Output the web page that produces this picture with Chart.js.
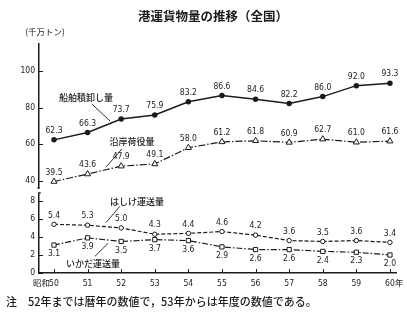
<!DOCTYPE html>
<html>
<head>
<meta charset="utf-8">
<script src="https://cdn.jsdelivr.net/npm/chart.js@4/dist/chart.umd.min.js"></script>
<style>
    html, body { margin: 0; padding: 0; background: #fff; }
    #wrap { width: 407px; height: 329px; position: relative; }
</style>
</head>
<body>
<div id="wrap"><canvas id="chart"></canvas></div>
<script>

// Years (昭和)
const years = ['50', '51', '52', '53', '54', '55', '56', '57', '58', '59', '60'];

// Series (千万トン)
const shipCargo = [62.3, 66.3, 73.7, 75.9, 83.2, 86.6, 84.6, 82.2, 86.0, 92.0, 93.3];
const coastCargo = [39.5, 43.6, 47.9, 49.1, 58.0, 61.2, 61.8, 60.9, 62.7, 61.0, 61.6];
const bargeCargo = [5.4, 5.3, 5.0, 4.3, 4.4, 4.6, 4.2, 3.6, 3.5, 3.6, 3.4];
const raftCargo = [3.1, 3.9, 3.5, 3.7, 3.6, 2.9, 2.6, 2.6, 2.4, 2.3, 2.0];

// Tick labels
const topTicks = [40, 60, 80, 100];
const bottomTicks = [0, 2, 4, 6, 8];

// Fonts
const numFont = '"Liberation Sans Narrow", "DejaVu Sans Condensed", "Liberation Sans", sans-serif';
const jpFont = '"Noto Sans CJK JP", sans-serif';
const ink = '#1b1b1b';

// Series names with leader lines (x = year index, y = axis value)
const callouts = [
    { text: '船舶積卸し量', axis: 'yTop', at: [0.95, 85.2], from: [1.13, 81.9], to: [1.67, 72.6] },
    { text: '沿岸荷役量', axis: 'yTop', at: [2.32, 61.1], from: [2.02, 57.3], to: [1.55, 47.4] },
    { text: 'はしけ運送量', axis: 'yBottom', at: [2.47, 7.95], from: [1.96, 7.4], to: [1.55, 5.6] },
    { text: 'いかだ運送量', axis: 'yBottom', at: [1.16, 1.05], from: [1.22, 1.85], to: [1.61, 3.3] }
];

const toPoints = (values) => values.map((v, i) => ({ x: i, y: v }));

// Value Labels + Callouts + Axis Details
const decorations = {
    id: 'decorations',
    afterDatasetsDraw(chart) {
        const ctx = chart.ctx;
        const x = chart.scales.x;

        ctx.save();
        ctx.fillStyle = ink;
        ctx.strokeStyle = ink;

        // Values
        ctx.font = '8.5px ' + numFont;
        ctx.textAlign = 'center';
        ctx.textBaseline = 'middle';
        chart.data.datasets.forEach((ds, d) => {
            const meta = chart.getDatasetMeta(d);
            meta.data.forEach((pt, i) => {
                const dy = ds.labelBelow ? 9 : -9;
                ctx.fillText(ds.data[i].y.toFixed(1), pt.x, pt.y + dy);
            });
        });

        // Callouts
        ctx.font = '500 9px ' + jpFont;
        ctx.lineWidth = 0.9;
        callouts.forEach((c) => {
            const y = chart.scales[c.axis];
            ctx.fillText(c.text, x.getPixelForValue(c.at[0]), y.getPixelForValue(c.at[1]));
            ctx.beginPath();
            ctx.moveTo(x.getPixelForValue(c.from[0]), y.getPixelForValue(c.from[1]));
            ctx.lineTo(x.getPixelForValue(c.to[0]), y.getPixelForValue(c.to[1]));
            ctx.stroke();
        });

        // Inner tick marks
        const left = chart.chartArea.left;
        const bottom = chart.chartArea.bottom;
        ctx.lineWidth = 1;
        ctx.beginPath();
        [['yTop', topTicks], ['yBottom', bottomTicks]].forEach(([id, ticks]) => {
            ticks.forEach((v) => {
                const py = Math.round(chart.scales[id].getPixelForValue(v)) + 0.5;
                ctx.moveTo(left, py);
                ctx.lineTo(left + 4, py);
            });
        });
        years.forEach((_, i) => {
            const px = Math.round(x.getPixelForValue(i)) + 0.5;
            ctx.moveTo(px, bottom);
            ctx.lineTo(px, bottom - 4);
        });
        ctx.stroke();

        // Axis break
        const breakY = chart.scales.yTop.bottom;
        ctx.fillStyle = '#fff';
        ctx.fillRect(left - 3, breakY - 3, 6, 5);
        ctx.fillStyle = ink;
        ctx.lineWidth = 1.2;
        ctx.beginPath();
        ctx.moveTo(left - 2, breakY - 3);
        ctx.lineTo(left, breakY - 3);
        ctx.lineTo(left, breakY - 2);
        ctx.moveTo(left, breakY + 1);
        ctx.lineTo(left, breakY + 2);
        ctx.lineTo(left + 2, breakY + 2);
        ctx.stroke();

        // Year prefix / suffix
        ctx.font = '8.5px ' + jpFont;
        ctx.textBaseline = 'middle';
        ctx.textAlign = 'right';
        ctx.fillText('昭和', x.getPixelForValue(0) - 4, bottom + 10);
        ctx.textAlign = 'left';
        ctx.fillText('年', x.getPixelForValue(years.length - 1) + 5, bottom + 10);

        // Title, unit, note
        ctx.textAlign = 'center';
        ctx.font = 'bold 12.5px ' + jpFont;
        ctx.fillText('港運貨物量の推移（全国）', 213, 16);
        ctx.font = '8.5px ' + jpFont;
        ctx.fillText('(千万トン)', 45, 32);
        ctx.textAlign = 'left';
        ctx.font = '500 11px ' + jpFont;
        ctx.fillText('注', 6, 302);
        ctx.fillText('52年までは暦年の数値で，53年からは年度の数値である。', 28, 302);

        ctx.restore();
    }
};

// Shared axis style
const yAxis = (ticks, min, max, weight) => ({
    type: 'linear',
    position: 'left',
    stack: 'y',
    stackWeight: weight,
    min: min,
    max: max,
    grid: { display: false, drawTicks: false },
    border: { display: true, color: ink, width: 1.5 },
    ticks: { color: ink, padding: 4, autoSkip: false, font: { size: 8.5, family: numFont } },
    afterBuildTicks: (scale) => { scale.ticks = ticks.map((v) => ({ value: v })); },
    afterFit: (scale) => { scale.width = 39; }
});

// Create Chart
const ctx = document.getElementById('chart').getContext('2d');
new Chart(ctx, {
    type: 'line',
    data: {
        datasets: [

            // 船舶積卸し量
            {
                data: toPoints(shipCargo),
                yAxisID: 'yTop',
                borderColor: ink,
                borderWidth: 1.5,
                pointStyle: 'circle',
                pointRadius: 2,
                pointBackgroundColor: ink,
                pointBorderColor: ink
            },

            // 沿岸荷役量
            {
                data: toPoints(coastCargo),
                yAxisID: 'yTop',
                borderColor: ink,
                borderWidth: 1.2,
                borderDash: [7, 2, 1.5, 2],
                pointStyle: 'triangle',
                pointRadius: 3.5,
                pointBorderWidth: 1,
                pointBackgroundColor: '#fff',
                pointBorderColor: ink
            },

            // はしけ運送量
            {
                data: toPoints(bargeCargo),
                yAxisID: 'yBottom',
                borderColor: ink,
                borderWidth: 1.2,
                borderDash: [4, 2],
                pointStyle: 'circle',
                pointRadius: 2.2,
                pointBorderWidth: 1,
                pointBackgroundColor: '#fff',
                pointBorderColor: ink
            },

            // いかだ運送量
            {
                data: toPoints(raftCargo),
                yAxisID: 'yBottom',
                labelBelow: true,
                borderColor: ink,
                borderWidth: 1.2,
                borderDash: [6, 2, 1.5, 2],
                pointStyle: 'rect',
                pointRadius: 3,
                pointBorderWidth: 1,
                pointBackgroundColor: '#fff',
                pointBorderColor: ink
            }
        ]
    },
    options: {
        responsive: true,
        maintainAspectRatio: false,
        animation: false,
        layout: { padding: { top: 44, right: 11, bottom: 0, left: 0 } },
        plugins: { legend: { display: false }, tooltip: { enabled: false } },
        elements: { line: { tension: 0, fill: false } },
        scales: {
            // left-side stacks are placed in reverse order, so the lower part comes first
            yBottom: yAxis(bottomTicks, 0, 9.1, 82),
            yTop: yAxis(topTicks, 34.3, 114.8, 147),
            x: {
                type: 'linear',
                position: 'bottom',
                min: -0.446,
                max: 10.18,
                grid: { display: false, drawTicks: false },
                border: { display: true, color: ink, width: 1.5 },
                ticks: {
                    color: ink,
                    padding: 6,
                    maxRotation: 0,
                    autoSkip: false,
                    font: { size: 8.5, family: numFont },
                    callback: (v) => years[Math.round(v)]
                },
                afterBuildTicks: (scale) => { scale.ticks = years.map((_, i) => ({ value: i })); },
                afterFit: (scale) => { scale.height = 56; }
            }
        }
    },
    plugins: [decorations]
});

</script>
</body>
</html>
